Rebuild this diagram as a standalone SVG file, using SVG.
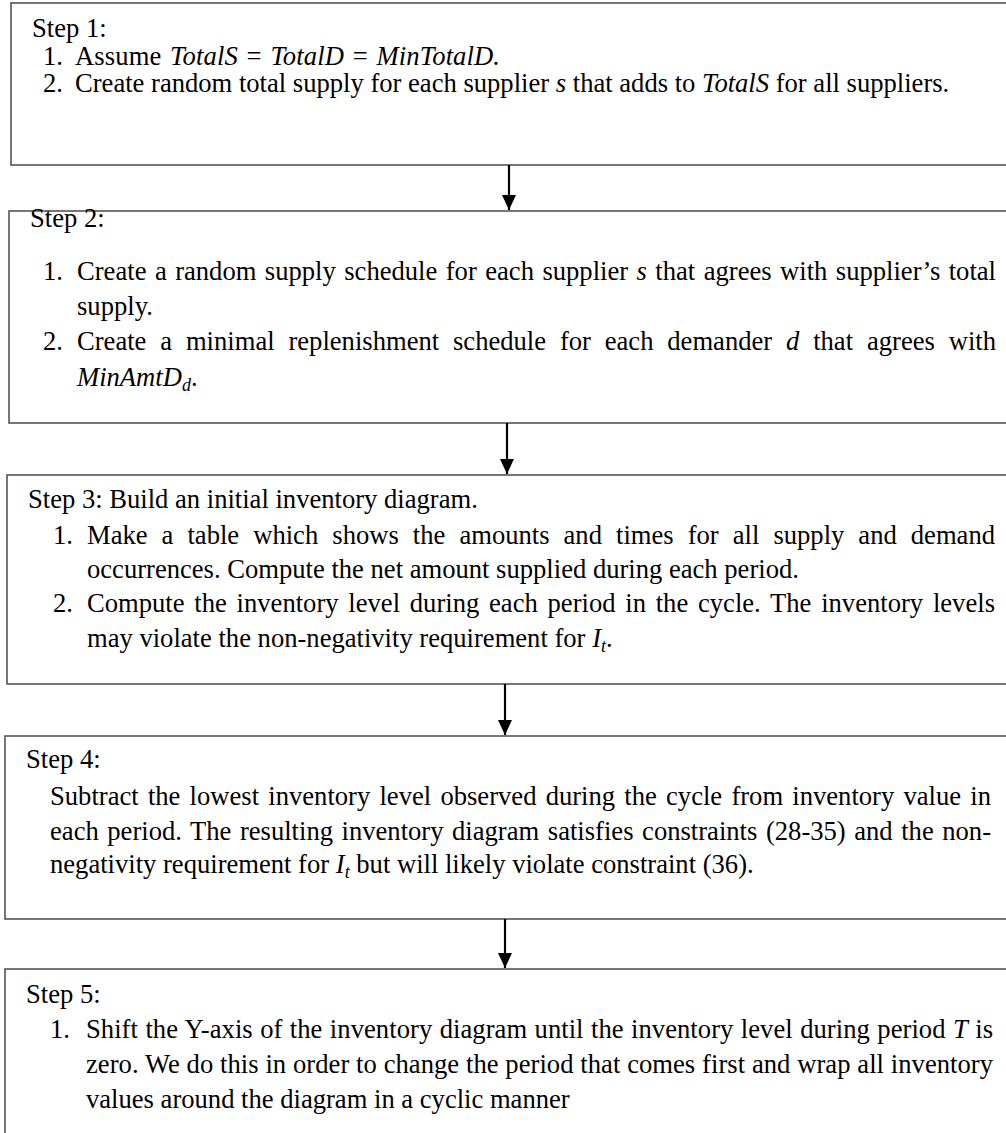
<svg xmlns="http://www.w3.org/2000/svg" width="1006" height="1133" viewBox="0 0 1006 1133">
<style>
.box{fill:#fff;stroke:#555;stroke-width:1.6}
text{font-family:"Liberation Serif","Times New Roman",serif;font-size:26.6px;fill:#000}
.i{font-style:italic}
.m{font-family:"Liberation Serif",serif;font-style:italic}
.sub{font-size:18px;font-style:italic}
.conn line{stroke:#000;stroke-width:2.2}
</style>
<defs>
<marker id="ah" markerWidth="15" markerHeight="14" refX="15" refY="7" orient="auto" markerUnits="userSpaceOnUse" viewBox="0 0 15 14">
<path d="M0,0 L15,7 L0,14 Z" fill="#000"/>
</marker>
</defs>
<rect x="0" y="0" width="1006" height="1133" fill="#fff"/>
<g id="step1">
<rect class="box" x="11" y="3" width="1005" height="162"/>
<text x="32" y="37">Step 1:</text>
<text x="43" y="65">1.</text>
<text x="75" y="65" textLength="425" lengthAdjust="spacing" word-spacing="2">Assume <tspan class="i">TotalS</tspan> = <tspan class="i">TotalD</tspan> = <tspan class="i">MinTotalD.</tspan></text>
<text x="43" y="92">2.</text>
<text x="75" y="92">Create random total supply for each supplier <tspan class="i">s</tspan> that adds to <tspan class="i">TotalS</tspan> for all suppliers.</text>
</g>
<g id="step2">
<rect class="box" x="9" y="211" width="1005" height="212"/>
<text x="30" y="227">Step 2:</text>
<text x="43" y="280">1.</text>
<text x="77" y="280" word-spacing="1.76" textLength="919" lengthAdjust="spacing">Create a random supply schedule for each supplier <tspan class="i">s</tspan> that agrees with supplier’s total</text>
<text x="77" y="315">supply.</text>
<text x="43" y="350">2.</text>
<text x="77" y="350" word-spacing="7.19" textLength="919" lengthAdjust="spacing">Create a minimal replenishment schedule for each demander <tspan class="i">d</tspan> that agrees with</text>
<text x="77" y="386"><tspan class="m">MinAmtD</tspan><tspan class="sub" dy="5">d</tspan><tspan dy="-5">.</tspan></text>
</g>
<g id="step3">
<rect class="box" x="7" y="475" width="1005" height="209"/>
<text x="28" y="508">Step 3: Build an initial inventory diagram.</text>
<text x="53" y="544">1.</text>
<text x="87" y="544" word-spacing="7.39" textLength="908" lengthAdjust="spacing">Make a table which shows the amounts and times for all supply and demand</text>
<text x="87" y="578">occurrences. Compute the net amount supplied during each period.</text>
<text x="53" y="612">2.</text>
<text x="87" y="612" word-spacing="3.08" textLength="908" lengthAdjust="spacing">Compute the inventory level during each period in the cycle. The inventory levels</text>
<text x="87" y="647">may violate the non-negativity requirement for <tspan class="m">I</tspan><tspan class="sub" dy="5">t</tspan><tspan dy="-5">.</tspan></text>
</g>
<g id="step4">
<rect class="box" x="5" y="736" width="1005" height="183"/>
<text x="26" y="768">Step 4:</text>
<text x="50" y="805" word-spacing="2.57" textLength="941" lengthAdjust="spacing">Subtract the lowest inventory level observed during the cycle from inventory value in</text>
<text x="50" y="840" word-spacing="1.87" textLength="941" lengthAdjust="spacing">each period. The resulting inventory diagram satisfies constraints (28-35) and the non-</text>
<text x="50" y="873">negativity requirement for <tspan class="m">I</tspan><tspan class="sub" dy="5">t</tspan><tspan dy="-5"> but will likely violate constraint (36).</tspan></text>
</g>
<g id="step5">
<rect class="box" x="5" y="969" width="1005" height="200"/>
<text x="26" y="1003">Step 5:</text>
<text x="50" y="1038">1.</text>
<text x="86" y="1038" word-spacing="0.72" textLength="907" lengthAdjust="spacing">Shift the Y-axis of the inventory diagram until the inventory level during period <tspan class="i">T</tspan> is</text>
<text x="86" y="1073" word-spacing="0.13" textLength="907" lengthAdjust="spacing">zero. We do this in order to change the period that comes first and wrap all inventory</text>
<text x="86" y="1108">values around the diagram in a cyclic manner</text>
</g>
<g id="connectors" class="conn">
<line x1="509" y1="165" x2="509" y2="210" marker-end="url(#ah)"/>
<line x1="507" y1="423" x2="507" y2="474" marker-end="url(#ah)"/>
<line x1="505" y1="684" x2="505" y2="735" marker-end="url(#ah)"/>
<line x1="505" y1="919" x2="505" y2="968" marker-end="url(#ah)"/>
</g>
</svg>
